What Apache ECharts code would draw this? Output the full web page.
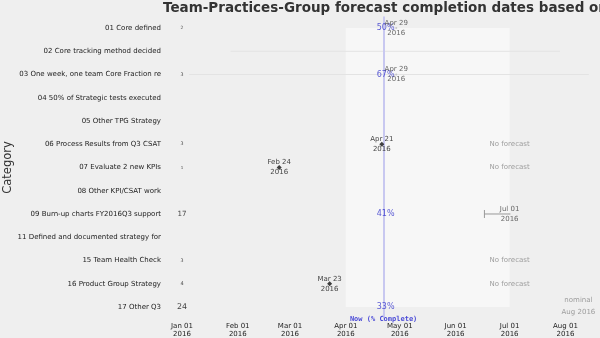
<!DOCTYPE html>
<html>
<head>
<meta charset="utf-8">
<script src="https://cdn.jsdelivr.net/npm/echarts@6/dist/echarts.min.js"></script>
<style>html,body{margin:0;padding:0;background:#efefef;}#c{width:600px;height:338px;}</style>
</head>
<body>
<div id="c"></div>
<script>
const titleText = "Team-Practices-Group forecast completion dates based on velocity";
const categories = ["01 Core defined","02 Core tracking method decided","03 One week, one team Core Fraction re","04 50% of Strategic tests executed","05 Other TPG Strategy","06 Process Results from Q3 CSAT","07 Evaluate 2 new KPIs","08 Other KPI/CSAT work","09 Burn-up charts FY2016Q3 support","11 Defined and documented strategy for","15 Team Health Check","16 Product Group Strategy","17 Other Q3"];
const counts = [2,null,3,null,null,3,1,null,17,null,3,4,24];
const percentComplete = [50,null,67,null,null,null,null,null,41,null,null,null,33];
const completedDates = [null,null,null,null,null,"2016-04-21","2016-02-24",null,null,null,null,"2016-03-23",null];
const forecastDates = ["2016-04-29",null,"2016-04-29",null,null,null,null,null,"2016-07-01",null,null,null,null];
const forecastLow = [null,null,null,null,null,null,null,null,"2016-06-17",null,null,null,null];
const noForecast = [false,false,false,false,false,true,true,false,false,false,true,true,false];
const faintLow = [null,"2016-01-28","2016-01-05",null,null,null,null,null,null,null,null,null,null];
const faintHigh = [null,"2016-07-29","2016-08-14",null,null,null,null,null,null,null,null,null,null];
const nowDate = "2016-04-22";
const quarterStart = "2016-04-01";
const quarterEnd = "2016-07-01";
const noForecastAt = "2016-07-01";
const nominalEnd = "2016-08-01";
const tickDates = ["2016-01-01","2016-02-01","2016-03-01","2016-04-01","2016-05-01","2016-06-01","2016-07-01","2016-08-01"];
const tickLabels = ["Jan 01\n2016","Feb 01\n2016","Mar 01\n2016","Apr 01\n2016","May 01\n2016","Jun 01\n2016","Jul 01\n2016","Aug 01\n2016"];

const base = Date.UTC(2016,0,1);
const day = s => (Date.UTC(+s.slice(0,4), +s.slice(5,7)-1, +s.slice(8,10)) - base)/86400000;
const months = ["Jan","Feb","Mar","Apr","May","Jun","Jul","Aug","Sep","Oct","Nov","Dec"];
const fmtDate = s => months[+s.slice(5,7)-1] + " " + s.slice(8,10) + "\n" + s.slice(0,4);
const tickDays = tickDates.map(day);
const nowDay = day(nowDate);
const last = categories[categories.length-1];

const chart = echarts.init(document.getElementById('c'), null, {renderer:'canvas'});
const countData = [], pctData = [], compData = [], fcData = [], nfData = [], rangeData = [], faintData = [];
categories.forEach((c,i)=>{
  if (counts[i] != null) countData.push({value:[0,c], label:{fontSize: 3 + Math.sqrt(counts[i]), formatter: String(counts[i])}});
  if (percentComplete[i] != null) pctData.push({value:[nowDay,c], label:{formatter: percentComplete[i] + "%"}});
  if (completedDates[i]) compData.push({value:[day(completedDates[i]),c], label:{formatter: fmtDate(completedDates[i])}});
  if (forecastDates[i]) fcData.push({value:[day(forecastDates[i]),c], label:{formatter: fmtDate(forecastDates[i])}});
  if (noForecast[i]) nfData.push([day(noForecastAt), c]);
  if (forecastLow[i]) rangeData.push([day(forecastLow[i]), day(forecastDates[i]), c]);
  if (faintLow[i]) faintData.push([day(faintLow[i]), day(faintHigh[i]), c]);
});

const rangeRender = (cap, color) => function(params, api){
  const a = api.coord([api.value(0), api.value(2)]);
  const b = api.coord([api.value(1), api.value(2)]);
  const children = [{type:'line', shape:{x1:a[0],y1:a[1],x2:b[0],y2:b[1]}, style:{stroke:color, lineWidth:1}}];
  if (cap) children.push({type:'line', shape:{x1:a[0],y1:a[1]-4,x2:a[0],y2:a[1]+4}, style:{stroke:color, lineWidth:1}});
  return {type:'group', children};
};

chart.setOption({
  backgroundColor:'#efefef',
  animation:false,
  textStyle:{fontFamily:'DejaVu Sans'},
  title:{text:titleText, left:163, top:1, padding:0, textStyle:{fontSize:13.5, fontWeight:'bold', color:'#333', fontFamily:'DejaVu Sans'}},
  grid:{left:164, right:0, top:16.4, bottom:19.4, containLabel:false, outerBoundsMode:'none'},
  xAxis:{type:'value', min:-10, max:232.2,
    axisLine:{show:false}, axisTick:{show:false}, splitLine:{show:false},
    axisLabel:{customValues:tickDays, formatter:v=>tickLabels[tickDays.indexOf(v)], fontSize:7, lineHeight:8.5, color:'#222', margin:3}},
  yAxis:{type:'category', inverse:true, data:categories,
    axisLine:{show:false}, axisTick:{show:false}, splitLine:{show:false},
    axisLabel:{fontSize:7, color:'#222', margin:3},
    name:'Category', nameLocation:'middle', nameGap:150, nameMoveOverlap:false, nameTextStyle:{fontSize:11.5, color:'#333'}},
  series:[
    {type:'custom', z:1, renderItem:rangeRender(false,'#e3e3e3'), data:faintData, encode:{x:[0,1], y:2}, silent:true},
    {type:'scatter', z:2, data:[], silent:true,
      markArea:{silent:true, itemStyle:{color:'#f7f7f7'}, data:[[{xAxis:day(quarterStart), yAxis:categories[0]},{xAxis:day(quarterEnd), yAxis:last}]]},
      markLine:{silent:true, symbol:'none', label:{show:false}, lineStyle:{color:'#c8c8f0', width:2, type:'solid'}, data:[{xAxis:nowDay}]}},
    {type:'scatter', z:5, symbolSize:0, data:countData, label:{show:true, position:'inside', color:'#111'}},
    {type:'scatter', z:5, symbolSize:0, data:pctData, label:{show:true, position:'inside', offset:[2,0], color:'#3333cc', fontSize:8}},
    {type:'custom', z:4, renderItem:rangeRender(true,'#999'), data:rangeData, encode:{x:[0,1], y:2}},
    {type:'scatter', z:5, symbol:'diamond', symbolSize:5, itemStyle:{color:'#111'}, data:compData, label:{show:true, position:'inside', color:'#111', fontSize:7, lineHeight:10}},
    {type:'scatter', z:5, symbol:'circle', symbolSize:2, itemStyle:{color:'#bbb'}, data:fcData, label:{show:true, position:'inside', color:'#444', fontSize:7, lineHeight:10}},
    {type:'scatter', z:5, symbolSize:0, data:nfData, label:{show:true, position:'inside', formatter:'No forecast', color:'#888', fontSize:7}},
    {type:'scatter', z:5, symbolSize:0, data:[[nowDay,last]], label:{show:true, position:'inside', offset:[0,12], formatter:'Now (% Complete)', color:'#1a1ad0', fontSize:7, fontWeight:'bold', fontFamily:'DejaVu Sans Mono'}},
    {type:'scatter', z:5, symbolSize:0, data:[[day(nominalEnd),last]], label:{show:true, position:'inside', offset:[13,-1], formatter:'nominal\nAug 2016', color:'#888', fontSize:7, lineHeight:12}}
  ]
});
</script>
</body>
</html>
